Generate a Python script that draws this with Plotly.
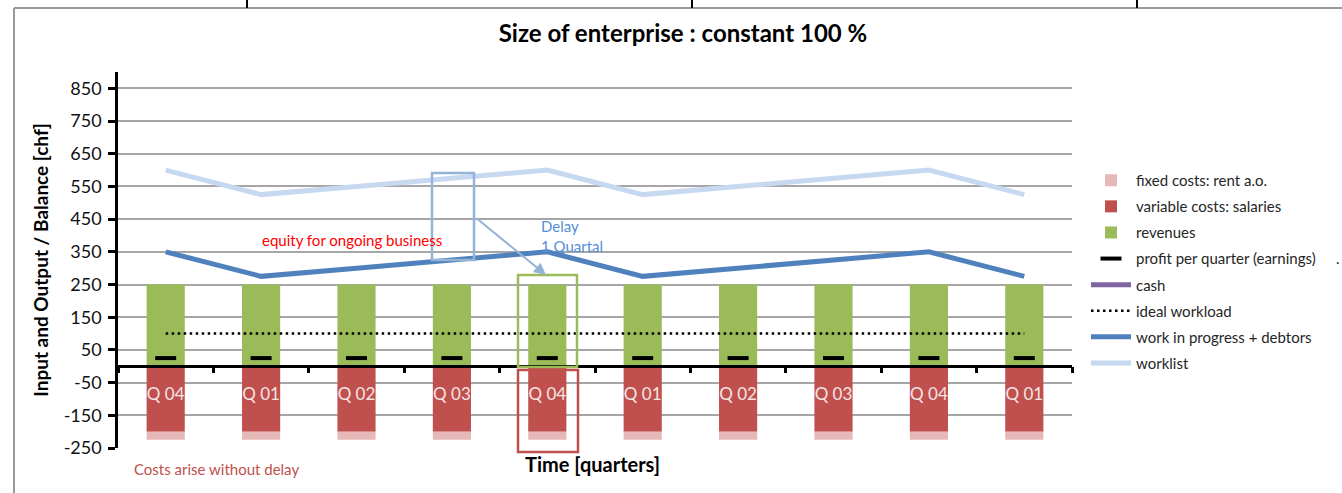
import plotly.graph_objects as go

# ---- data ----
quarters = ["Q 04", "Q 01", "Q 02", "Q 03", "Q 04", "Q 01", "Q 02", "Q 03", "Q 04", "Q 01"]
revenues = [250, 250, 250, 250, 250, 250, 250, 250, 250, 250]
variable_costs = [-200, -200, -200, -200, -200, -200, -200, -200, -200, -200]
fixed_costs = [-25, -25, -25, -25, -25, -25, -25, -25, -25, -25]
profit = [25, 25, 25, 25, 25, 25, 25, 25, 25, 25]
ideal_workload = [100, 100, 100, 100, 100, 100, 100, 100, 100, 100]
wip_debtors = [350, 275, 300, 325, 350, 275, 300, 325, 350, 275]
worklist = [600, 525, 550, 575, 600, 525, 550, 575, 600, 525]
cash = [None, None, None, None, None, None, None, None, None, None]
y_ticks = [-250, -150, -50, 50, 150, 250, 350, 450, 550, 650, 750, 850]
y_tick_text = ["-250", "-150", "-50", "50", "150", "250", "350", "450", "550", "650", "750", "850"]
y_range = [-250, 900]

xs = list(range(len(quarters)))

FONT = "Lato"
W, H = 1342, 493
L, R, T, B = 118, 1072, 72, 448


def px(x):
    return (x - L) / (R - L)


def py(y):
    return (B - y) / (B - T)


fig = go.Figure()

fig.add_trace(go.Bar(x=xs, y=variable_costs, name="variable costs: salaries",
                     marker=dict(color="#c0504d", line=dict(width=0)),
                     legendrank=2, legendgroup="g2"))
fig.add_trace(go.Bar(x=xs, y=fixed_costs, name="fixed costs: rent a.o.",
                     marker=dict(color="#e6b9b8", line=dict(width=0)),
                     legendrank=1, legendgroup="g1"))
fig.add_trace(go.Bar(x=xs, y=revenues, name="revenues",
                     marker=dict(color="#9bbb59", line=dict(width=0)),
                     legendrank=3, legendgroup="g3"))
fig.add_trace(go.Scatter(x=xs, y=ideal_workload, name="ideal workload", mode="lines",
                         line=dict(color="black", width=2.5, dash="2.5px,3.5px"),
                         legendrank=6, legendgroup="g6"))
fig.add_trace(go.Scatter(x=xs, y=worklist, name="worklist", mode="lines",
                         line=dict(color="#c6d9f1", width=5),
                         legendrank=8, legendgroup="g8"))
fig.add_trace(go.Scatter(x=xs, y=wip_debtors, name="work in progress + debtors", mode="lines",
                         line=dict(color="#4f81bd", width=5),
                         legendrank=7, legendgroup="g7"))
fig.add_trace(go.Scatter(x=xs, y=cash, name="cash", mode="lines",
                         line=dict(color="#8064a2", width=5), showlegend=True,
                         legendrank=5, legendgroup="g5"))
fig.add_trace(go.Scatter(x=xs, y=profit, mode="markers",
                         name="profit per quarter (earnings)",
                         marker=dict(symbol="line-ew", size=15, color="black",
                                     line=dict(color="black", width=4)),
                         legendrank=4, legendgroup="g4"))

zero_pos = (0 - y_range[0]) / (y_range[1] - y_range[0])

fig.update_layout(
    width=W, height=H, autosize=False,
    margin=dict(l=L, r=W - R, t=T, b=H - B, autoexpand=False),
    paper_bgcolor="white", plot_bgcolor="white",
    barmode="relative", bargap=0.6,
    font=dict(family=FONT, color="#000000"),
    title=dict(text="<b>Size of enterprise : constant 100 %</b>",
               x=683 / W, xanchor="center", xref="container", y=1 - 34 / H, yanchor="middle",
               font=dict(size=24, family=FONT, color="black")),
    xaxis=dict(range=[-0.5, len(quarters) - 0.5], tickmode="array",
               tickvals=xs, ticktext=quarters, ticks="", showgrid=False,
               zeroline=False, showline=True, linecolor="black", linewidth=3,
               anchor="free", position=zero_pos, ticklabelstandoff=11,
               tickfont=dict(size=17, color="#f4e4e4", family=FONT)),
    xaxis2=dict(range=[-0.5, len(quarters) - 0.5], overlaying="x", tickmode="array",
                tickvals=[i - 0.5 for i in range(len(quarters) + 1)],
                showticklabels=False, ticks="outside", ticklen=6, tickwidth=2.5,
                tickcolor="black", showgrid=False, zeroline=False, showline=False,
                anchor="free", position=zero_pos, side="bottom"),
    yaxis=dict(range=y_range, tickmode="array", tickvals=y_ticks, ticktext=y_tick_text,
               showgrid=True, gridcolor="#a6a6a6", gridwidth=1.5, automargin=False,
               zeroline=False, showline=True, linecolor="black", linewidth=2.5,
               ticks="outside", ticklen=7, tickwidth=2.5, tickcolor="black",
               ticklabelstandoff=3,
               tickfont=dict(size=18, family=FONT, color="#111111"),
               title=dict(text="<b>Input and Output / Balance [chf]</b>",
                          font=dict(size=19, family=FONT, color="black"), standoff=10)),
    legend=dict(x=1086 / W, y=1 - 164 / H, xref="container", yref="container",
                xanchor="left", yanchor="top",
                font=dict(size=15, family=FONT, color="#262626"),
                traceorder="grouped", tracegroupgap=3.6, itemwidth=40,
                bgcolor="rgba(0,0,0,0)"),
)

# dummy trace on xaxis2 so the boundary ticks render
fig.add_trace(go.Scatter(x=xs, y=[None] * len(xs), xaxis="x2", showlegend=False,
                         hoverinfo="skip", mode="lines"))

# ---- decorations ----
shapes = [
    dict(type="line", xref="paper", yref="paper", x0=px(14), x1=px(1342), y0=py(8), y1=py(8),
         line=dict(color="#9a9a9a", width=2)),
    dict(type="line", xref="paper", yref="paper", x0=px(14), x1=px(14), y0=py(8), y1=py(493),
         line=dict(color="#9a9a9a", width=2)),
    dict(type="rect", xref="paper", yref="paper", x0=px(432), x1=px(474), y0=py(173), y1=py(260),
         line=dict(color="#95b3d7", width=2.5)),
    dict(type="rect", xref="paper", yref="paper", x0=px(518), x1=px(577), y0=py(275), y1=py(367),
         line=dict(color="#9bbb59", width=2.5)),
    dict(type="rect", xref="paper", yref="paper", x0=px(518), x1=px(578), y0=py(370), y1=py(452),
         line=dict(color="#c0504d", width=2.5)),
]
for xv in (247, 692, 1137):
    shapes.append(dict(type="line", xref="paper", yref="paper", x0=px(xv), x1=px(xv),
                       y0=py(0), y1=py(8), line=dict(color="black", width=2)))
fig.update_layout(shapes=shapes)

annotations = [
    dict(text="equity for ongoing business", xref="paper", yref="paper",
         x=px(352), y=py(240), xanchor="center", yanchor="middle", showarrow=False,
         font=dict(size=15, color="#ff0000", family=FONT)),
    dict(text="Delay", xref="paper", yref="paper",
         x=px(539), y=py(226), xanchor="left", yanchor="middle", showarrow=False,
         font=dict(size=15, color="#558ed5", family=FONT)),
    dict(text="1 Quartal", xref="paper", yref="paper",
         x=px(539), y=py(246), xanchor="left", yanchor="middle", showarrow=False,
         font=dict(size=15, color="#558ed5", family=FONT)),
    dict(text="", xref="paper", yref="paper", x=px(546), y=py(275),
         ax=475 - 546, ay=217 - 275, axref="pixel", ayref="pixel",
         showarrow=True, arrowhead=2, arrowsize=1.2, arrowwidth=2, arrowcolor="#95b3d7"),
    dict(text="<b>Time [quarters]</b>", xref="paper", yref="paper",
         x=px(592), y=py(464), xanchor="center", yanchor="middle", showarrow=False,
         font=dict(size=20, color="black", family=FONT)),
    dict(text="Costs arise without delay", xref="paper", yref="paper",
         x=px(132), y=py(469), xanchor="left", yanchor="middle", showarrow=False,
         font=dict(size=15, color="#c0504d", family=FONT)),
    dict(text=".", xref="paper", yref="paper",
         x=px(1338), y=py(258), xanchor="center", yanchor="middle", showarrow=False,
         font=dict(size=15, color="#262626", family=FONT)),
]
fig.update_layout(annotations=annotations)

fig.write_html("out.html", config={"displayModeBar": False},
               post_script="document.body.style.margin='0';document.body.style.overflow='hidden';")
